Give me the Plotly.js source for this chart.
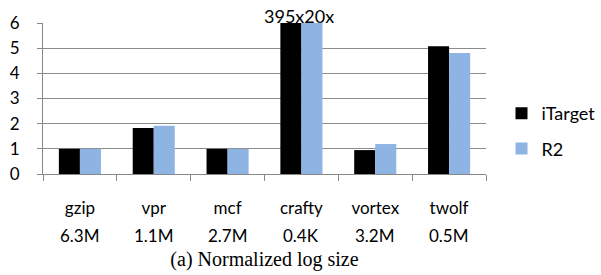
<!DOCTYPE html>
<html><head><meta charset="utf-8">
<script src="https://cdn.plot.ly/plotly-3.0.1.min.js"></script>
<style>html,body{margin:0;padding:0;background:#fff}#c{width:601px;height:275px}</style>
</head><body><div id="c"></div>
<script>
const categories = ["gzip","vpr","mcf","crafty","vortex","twolf"];
const sizes = ["6.3M","1.1M","2.7M","0.4K","3.2M","0.5M"];
const iTarget = [1.0, 1.83, 1.0, 6.0, 0.95, 5.08];
const R2 = [1.0, 1.92, 1.0, 6.0, 1.19, 4.81];
const seriesNames = ["iTarget","R2"];
const craftyNote = "395x20x";

const font = "Lato, 'Open Sans', sans-serif";
const traces = [
  {type:"bar", name:seriesNames[0], x:categories, y:iTarget, marker:{color:"#000000"}, legendgroup:"a", cliponaxis:true},
  {type:"bar", name:seriesNames[1], x:categories, y:R2, marker:{color:"#8EB4E3"}, legendgroup:"b", cliponaxis:true}
];
const annotations = categories.map((c,i)=>({
  x:c, xref:"x", y:0, yref:"y", yshift:-61, yanchor:"middle", text:sizes[i], showarrow:false,
  font:{family:font,size:17,color:"#000"}
}));
annotations.push({x:"crafty", xref:"x", y:6, yref:"y", yanchor:"bottom", yshift:-6, xshift:-2,
  text:craftyNote, showarrow:false, font:{family:font,size:18,color:"#000"}});
const layout = {
  width:601, height:275,
  margin:{l:43, r:115, t:23, b:101, autoexpand:false},
  paper_bgcolor:"#fff", plot_bgcolor:"#fff",
  barmode:"group", bargap:0.43, bargroupgap:0,
  showlegend:true,
  legend:{x:1.035, xanchor:"left", y:0.285, yanchor:"middle", traceorder:"grouped", tracegroupgap:9,
    font:{family:font,size:18,color:"#000"}, itemwidth:30},
  title:{text:"(a) Normalized log size", font:{family:"'Liberation Serif', 'Times New Roman', serif", size:20, color:"#000"},
    xref:"paper", x:0.5, xanchor:"center", yref:"container", y:0.058, yanchor:"middle"},
  xaxis:{type:"category", tickson:"boundaries", ticks:"outside", ticklen:6, tickcolor:"#888", tickwidth:1,
    showline:true, linecolor:"#888", linewidth:1, showgrid:false, ticklabelstandoff:19, automargin:false,
    tickfont:{family:font,size:17,color:"#000"}},
  yaxis:{range:[0,6], dtick:1, ticks:"outside", ticklen:5, tickcolor:"#888", showline:true, linecolor:"#888",
    gridcolor:"#8c8c8c", gridwidth:1.3, zeroline:false, ticklabelstandoff:14, automargin:false,
    tickfont:{family:font,size:17,color:"#000"}},
  annotations:annotations
};
Plotly.newPlot("c", traces, layout, {displayModeBar:false, staticPlot:true});
</script></body></html>
